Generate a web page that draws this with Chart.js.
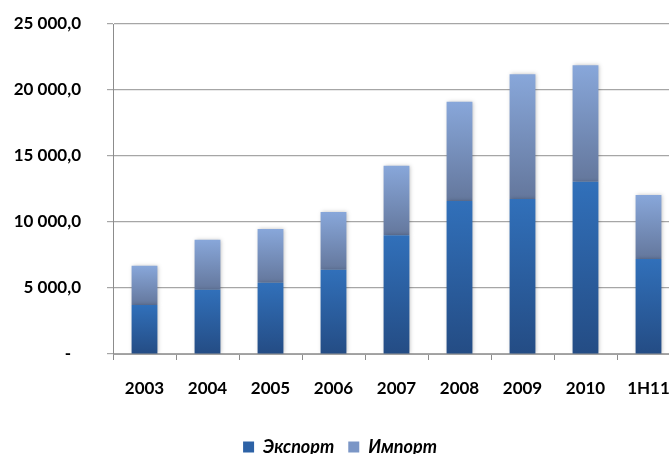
<!DOCTYPE html>
<html>
<head>
<meta charset="utf-8">
<script src="https://cdn.jsdelivr.net/npm/chart.js@4"></script>
<style>
html,body{margin:0;padding:0;background:#fff;overflow:hidden;}
#wrap{width:680px;height:454px;position:relative;}
</style>
</head>
<body>
<div id="wrap"><canvas id="c"></canvas></div>
<script>
const categories = ['2003','2004','2005','2006','2007','2008','2009','2010','1H11'];
const exportValues = [3710, 4870, 5400, 6390, 8990, 11590, 11740, 13050, 7200];
const importValues = [2980, 3790, 4070, 4370, 5280, 7520, 9460, 8820, 4850];
const yTicks = [0, 5000, 10000, 15000, 20000, 25000];
const seriesNames = ['Экспорт', 'Импорт'];

const FONT = 'Lato';

function fmt(v){
  if (v === 0) return '-\u2007';
  const s = String(Math.round(v));
  return s.replace(/\B(?=(\d{3})+(?!\d))/g, ' ') + ',0';
}

function grad(ctx, lowVals, vals, c0, c1, fallback){
  const chart = ctx.chart;
  if (!chart.chartArea || ctx.type !== 'data') return fallback;
  const y = chart.scales.y;
  const i = ctx.dataIndex;
  const lo = lowVals ? lowVals[i] : 0;
  const hi = lo + vals[i];
  const g = chart.ctx.createLinearGradient(0, y.getPixelForValue(lo), 0, y.getPixelForValue(hi));
  g.addColorStop(0, c0);
  g.addColorStop(1, c1);
  return g;
}

const shadowPlugin = {
  id: 'barShadow',
  beforeDatasetsDraw(chart){
    const c = chart.ctx;
    c.save();
    c.shadowColor = 'rgba(0,0,0,0.25)';
    c.shadowBlur = 4;
    c.shadowOffsetX = 1;
    c.shadowOffsetY = 0;
  },
  afterDatasetsDraw(chart){ chart.ctx.restore(); }
};

new Chart(document.getElementById('c'), {
  type: 'bar',
  data: {
    labels: categories,
    datasets: [
      {
        label: seriesNames[0],
        data: exportValues,
        backgroundColor: ctx => grad(ctx, null, exportValues, '#244c84', '#3170ba', '#2d62a6'),
        borderWidth: 0,
        categoryPercentage: 1,
        barPercentage: 0.41
      },
      {
        label: seriesNames[1],
        data: importValues,
        backgroundColor: ctx => grad(ctx, exportValues, importValues, '#64779c', '#88a7da', '#7b96c6'),
        borderWidth: 0,
        categoryPercentage: 1,
        barPercentage: 0.41
      }
    ]
  },
  plugins: [shadowPlugin],
  options: {
    responsive: true,
    maintainAspectRatio: false,
    animation: false,
    layout: { autoPadding: false, padding: { top: 24, right: 0, left: 0, bottom: -12 } },
    plugins: {
      legend: {
        position: 'bottom',
        labels: {
          font: { family: FONT, size: 18, weight: 'bold', style: 'italic' },
          color: '#000',
          boxWidth: 11,
          boxHeight: 11,
          padding: 14,
          generateLabels(chart){
            return chart.data.datasets.map((ds, i) => ({
              text: ds.label,
              fillStyle: i === 0 ? '#2d62a6' : '#7b96c6',
              strokeStyle: 'transparent',
              lineWidth: 0,
              datasetIndex: i,
              hidden: false
            }));
          }
        }
      },
      tooltip: { enabled: false }
    },
    scales: {
      x: {
        stacked: true,
        afterFit(scale){ scale.height = 70; scale.paddingLeft = 0; scale.paddingRight = 0; },
        grid: { drawOnChartArea: false, drawTicks: true, tickLength: 6, color: '#8c8c8c', offset: true },
        border: { color: '#a0a0a0', width: 1 },
        ticks: { font: { family: FONT, size: 17, weight: 'bold' }, color: '#000', padding: 18 }
      },
      y: {
        stacked: true,
        min: 0,
        max: 25000,
        afterBuildTicks(scale){ scale.ticks = yTicks.map(v => ({ value: v })); },
        afterFit(scale){ scale.width = 113; scale.paddingTop = 0; scale.paddingBottom = 0; },
        grid: { color: '#a6a6a6', tickLength: 6, lineWidth: 1.2 },
        border: { color: '#8c8c8c', width: 1 },
        ticks: {
          font: { family: FONT, size: 17, weight: 'bold' },
          color: '#000',
          padding: 26,
          callback: v => fmt(v)
        }
      }
    }
  }
});
</script>
</body>
</html>
